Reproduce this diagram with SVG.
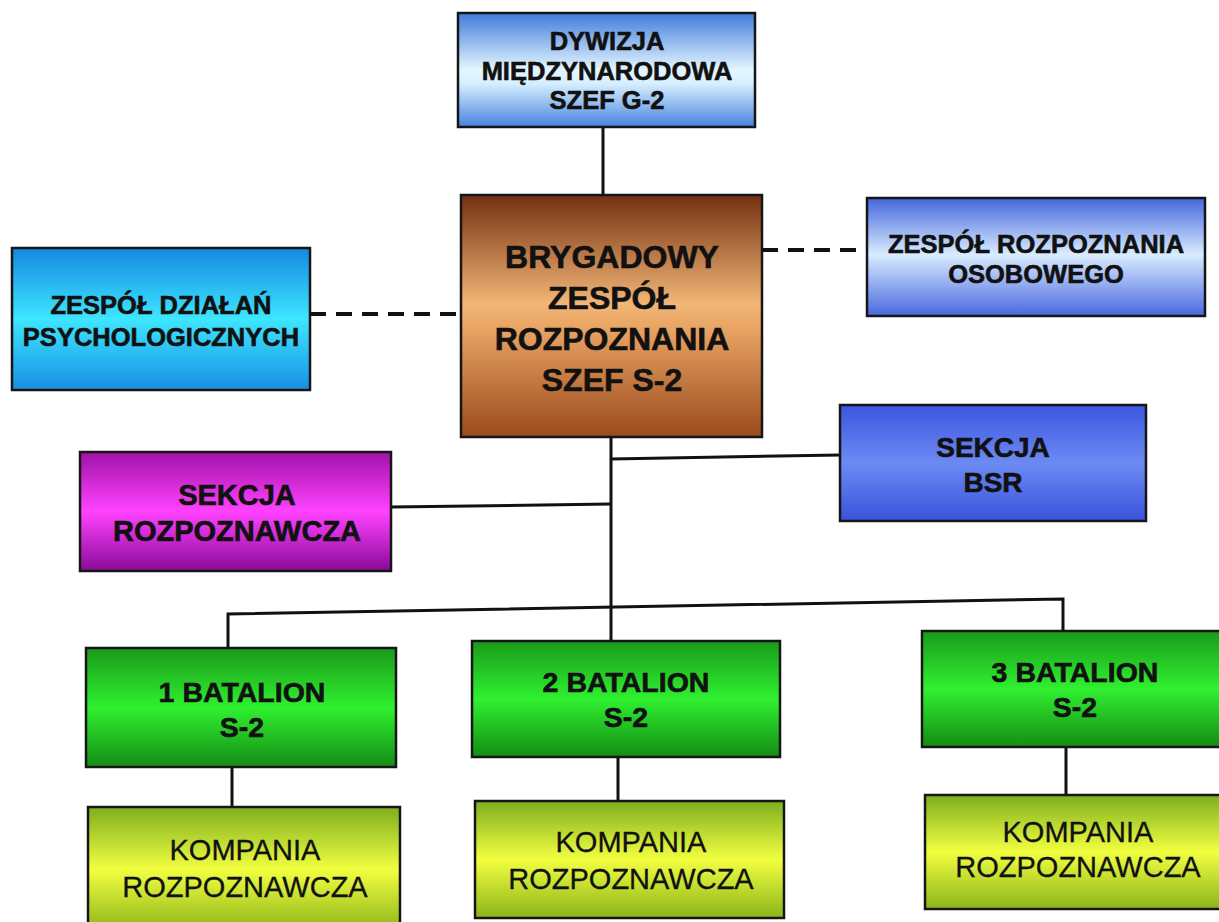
<svg xmlns="http://www.w3.org/2000/svg" width="1219" height="922" viewBox="0 0 1219 922">
<defs>
<linearGradient id="gTop" x1="0" y1="0" x2="0" y2="1">
<stop offset="0" stop-color="#3f7bd9"/><stop offset="0.5" stop-color="#e4f6ff"/><stop offset="0.62" stop-color="#d6efff"/><stop offset="1" stop-color="#4682de"/>
</linearGradient>
<linearGradient id="gBrown" x1="0" y1="0" x2="0" y2="1">
<stop offset="0" stop-color="#743010"/><stop offset="0.45" stop-color="#f2b676"/><stop offset="0.55" stop-color="#e9a463"/><stop offset="1" stop-color="#9a4a1c"/>
</linearGradient>
<linearGradient id="gCyan" x1="0" y1="0" x2="0" y2="1">
<stop offset="0" stop-color="#1488e0"/><stop offset="0.5" stop-color="#3ee6ff"/><stop offset="1" stop-color="#1890e4"/>
</linearGradient>
<linearGradient id="gBlueL" x1="0" y1="0" x2="0" y2="1">
<stop offset="0" stop-color="#4466dc"/><stop offset="0.48" stop-color="#d9ecff"/><stop offset="1" stop-color="#4868de"/>
</linearGradient>
<linearGradient id="gBlue" x1="0" y1="0" x2="0" y2="1">
<stop offset="0" stop-color="#3c55e0"/><stop offset="0.5" stop-color="#6c8af2"/><stop offset="1" stop-color="#3a52dc"/>
</linearGradient>
<linearGradient id="gMag" x1="0" y1="0" x2="0" y2="1">
<stop offset="0" stop-color="#a012a8"/><stop offset="0.5" stop-color="#ff42ff"/><stop offset="1" stop-color="#8a0a98"/>
</linearGradient>
<linearGradient id="gGreen" x1="0" y1="0" x2="0" y2="1">
<stop offset="0" stop-color="#1a9a1a"/><stop offset="0.5" stop-color="#30f030"/><stop offset="1" stop-color="#148c14"/>
</linearGradient>
<linearGradient id="gYel" x1="0" y1="0" x2="0" y2="1">
<stop offset="0" stop-color="#7eae20"/><stop offset="0.5" stop-color="#f2ff40"/><stop offset="1" stop-color="#8cb41a"/>
</linearGradient>
</defs>
<style>
.box{stroke:#161616;stroke-width:2.5}
.t{font-family:"Liberation Sans",Arial,sans-serif;font-weight:bold;fill:#111;stroke:#111;stroke-width:0.6;text-anchor:middle}
.r{font-family:"Liberation Sans",Arial,sans-serif;font-weight:normal;fill:#111;stroke:#111;stroke-width:0.3;text-anchor:middle}
.ln{fill:none;stroke:#111;stroke-width:3}
.dash{fill:none;stroke:#111;stroke-width:4;stroke-dasharray:16 10}
</style>
<rect width="1219" height="922" fill="#ffffff"/>
<g id="connectors">
<path class="ln" d="M603,127 V195"/>
<path class="dash" d="M310,314 H461"/>
<path class="dash" d="M762,250 H867"/>
<path class="ln" d="M611,437 V640"/>
<path class="ln" d="M611,459 L840,455"/>
<path class="ln" d="M391,507 L611,504"/>
<path class="ln" d="M228,648 V614 L1063,599 V630"/>
<path class="ln" d="M232,767 V807"/>
<path class="ln" d="M618,757 V801"/>
<path class="ln" d="M1066,747 V795"/>
</g>
<g id="dywizja">
<rect class="box" x="458" y="13" width="297" height="114" fill="url(#gTop)"/>
<text class="t" font-size="25.5" x="607" y="50">DYWIZJA</text>
<text class="t" font-size="25.5" x="607" y="80">MIĘDZYNARODOWA</text>
<text class="t" font-size="25.5" x="607" y="109">SZEF G-2</text>
</g>
<g id="brygadowy">
<rect class="box" x="461" y="195" width="301" height="242" fill="url(#gBrown)"/>
<text class="t" font-size="32" x="612" y="268">BRYGADOWY</text>
<text class="t" font-size="32" x="612" y="309">ZESPÓŁ</text>
<text class="t" font-size="32" x="612" y="350">ROZPOZNANIA</text>
<text class="t" font-size="32" x="612" y="391">SZEF S-2</text>
</g>
<g id="psych">
<rect class="box" x="12" y="248" width="298" height="142" fill="url(#gCyan)"/>
<text class="t" font-size="25.5" x="161" y="314">ZESPÓŁ DZIAŁAŃ</text>
<text class="t" font-size="25.5" x="161" y="346">PSYCHOLOGICZNYCH</text>
</g>
<g id="osobowy">
<rect class="box" x="867" y="198" width="338" height="118" fill="url(#gBlueL)"/>
<text class="t" font-size="25.5" x="1036" y="253">ZESPÓŁ ROZPOZNANIA</text>
<text class="t" font-size="25.5" x="1036" y="283">OSOBOWEGO</text>
</g>
<g id="bsr">
<rect class="box" x="840" y="405" width="306" height="116" fill="url(#gBlue)"/>
<text class="t" font-size="28" x="993" y="457">SEKCJA</text>
<text class="t" font-size="28" x="993" y="492">BSR</text>
</g>
<g id="sekcja-rozp">
<rect class="box" x="80" y="452" width="311" height="119" fill="url(#gMag)"/>
<text class="t" font-size="29" x="237" y="505">SEKCJA</text>
<text class="t" font-size="29" x="237" y="541">ROZPOZNAWCZA</text>
</g>
<g id="batalion1">
<rect class="box" x="86" y="648" width="310" height="119" fill="url(#gGreen)"/>
<text class="t" font-size="28.5" x="242" y="702">1 BATALION</text>
<text class="t" font-size="28.5" x="242" y="737">S-2</text>
</g>
<g id="batalion2">
<rect class="box" x="472" y="641" width="308" height="116" fill="url(#gGreen)"/>
<text class="t" font-size="28.5" x="626" y="692">2 BATALION</text>
<text class="t" font-size="28.5" x="626" y="727">S-2</text>
</g>
<g id="batalion3">
<rect class="box" x="922" y="631" width="306" height="116" fill="url(#gGreen)"/>
<text class="t" font-size="28.5" x="1075" y="682">3 BATALION</text>
<text class="t" font-size="28.5" x="1075" y="717">S-2</text>
</g>
<g id="kompania1">
<rect class="box" x="88" y="807" width="312" height="125" fill="url(#gYel)"/>
<text class="r" font-size="29" x="245" y="860">KOMPANIA</text>
<text class="r" font-size="29" x="245" y="897">ROZPOZNAWCZA</text>
</g>
<g id="kompania2">
<rect class="box" x="475" y="801" width="309" height="117" fill="url(#gYel)"/>
<text class="r" font-size="29" x="631" y="852">KOMPANIA</text>
<text class="r" font-size="29" x="631" y="889">ROZPOZNAWCZA</text>
</g>
<g id="kompania3">
<rect class="box" x="925" y="795" width="306" height="114" fill="url(#gYel)"/>
<text class="r" font-size="29" x="1078" y="842">KOMPANIA</text>
<text class="r" font-size="29" x="1078" y="877">ROZPOZNAWCZA</text>
</g>
</svg>
